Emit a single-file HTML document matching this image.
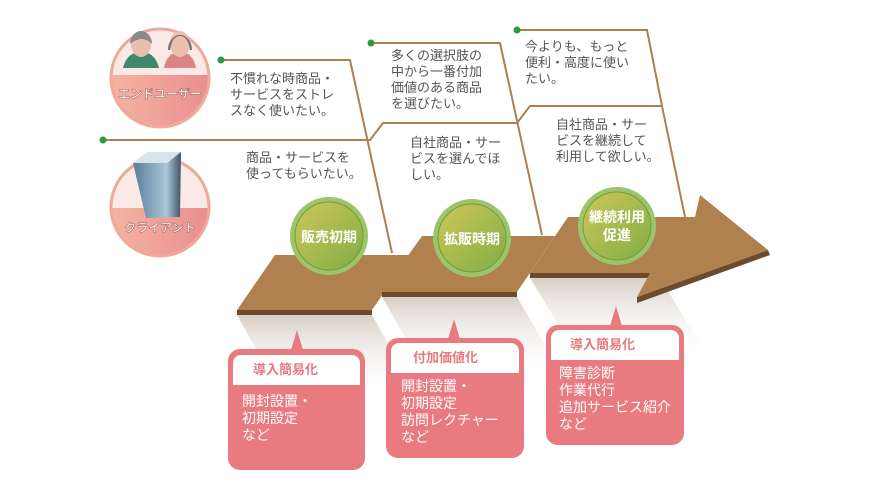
<!DOCTYPE html>
<html><head><meta charset="utf-8"><style>
body{margin:0;background:#fff;}
svg text{font-family:"Liberation Sans","Noto Sans CJK JP",sans-serif;}
</style></head><body>
<svg width="880" height="485" viewBox="0 0 880 485" xmlns="http://www.w3.org/2000/svg">
<defs>
<linearGradient id="pk" x1="0" x2="1"><stop offset="0" stop-color="#f3b4a0"/><stop offset="1" stop-color="#ea8f8f"/></linearGradient>
<linearGradient id="gr" x1="0" y1="0" x2="1" y2="1"><stop offset="0" stop-color="#cfc65a"/><stop offset="1" stop-color="#7fae45"/></linearGradient>
<linearGradient id="sh" x1="0" y1="0" x2="0" y2="1"><stop offset="0" stop-color="#d8cfc6"/><stop offset="1" stop-color="#fff" stop-opacity="0"/></linearGradient>
<linearGradient id="bd" x1="0" x2="1"><stop offset="0" stop-color="#5a7e9a"/><stop offset="0.7" stop-color="#a9c6d8"/><stop offset="1" stop-color="#3d5566"/></linearGradient>
<clipPath id="c1"><circle cx="160" cy="78" r="49"/></clipPath>
<clipPath id="c2"><circle cx="160" cy="207" r="49"/></clipPath>
</defs>
<polygon points="237,315 372,315 420,400 285,400" fill="url(#sh)"/>
<polygon points="382,297 517,297 565,380 430,380" fill="url(#sh)"/>
<polygon points="530,278 660,278 710,360 580,360" fill="url(#sh)"/>
<circle cx="160" cy="78" r="49" fill="url(#pk)"/>
<rect x="100" y="20" width="120" height="55" fill="#fbe9e6" clip-path="url(#c1)"/>
<circle cx="160" cy="78" r="49" fill="none" stroke="#f0a89a" stroke-width="3"/>
<path d="M123,68 q4,-16 18,-16 q14,0 18,16z" fill="#3f8a6e"/>
<ellipse cx="141" cy="44" rx="10" ry="13" fill="#eabfb0"/><path d="M130,44 a11,13 0 0 1 22,0 q-10,-10 -22,0z" fill="#8a8a8a"/>
<path d="M164,68 q3,-16 16,-16 q13,0 16,16z" fill="#d98585"/>
<ellipse cx="180" cy="44" rx="10" ry="13" fill="#eabfb0"/><path d="M168,50 a12,15 0 0 1 24,0 l-2,0 q-2,-14 -10,-14 q-8,0 -10,14z" fill="#6e6e6e"/>
<text x="160" y="98" font-size="12" font-weight="bold" fill="#fff" text-anchor="middle" stroke="#a66" stroke-width="0.6">エンドユーザー</text>
<circle cx="160" cy="207" r="49" fill="url(#pk)"/>
<rect x="100" y="150" width="120" height="58" fill="#fbe9e6" clip-path="url(#c2)"/>
<circle cx="160" cy="207" r="49" fill="none" stroke="#f0a89a" stroke-width="3"/>
<polygon points="133,163 148,152 181,152 180,217 146,218" fill="url(#bd)"/>
<polygon points="133,163 148,152 181,152 167,163" fill="#d8e4ec"/>
<text x="160" y="232" font-size="12" font-weight="bold" fill="#fff" text-anchor="middle" stroke="#a66" stroke-width="0.6">クライアント</text>
<g fill="none" stroke="#ad8050" stroke-width="2">
<polyline points="221,60 350,60 392,253"/>
<polyline points="103,140 370,140 383,123 517,123 530,106 662,106 685,217"/>
<polyline points="371,43 500,43 542,235"/>
<polyline points="517,30 647,30 662,106"/>
</g>
<g fill="#2e9a3a"><circle cx="221" cy="60" r="3.5"/><circle cx="103" cy="140" r="3.5"/><circle cx="371" cy="43" r="3.5"/><circle cx="517" cy="30" r="3.5"/></g>
<g font-size="13" fill="#555">
<text x="230" y="83">不慣れな時商品・</text><text x="230" y="99">サービスをストレ</text><text x="230" y="115">スなく使いたい。</text>
<text x="246" y="162">商品・サービスを</text><text x="246" y="178">使ってもらいたい。</text>
<text x="391" y="60">多くの選択肢の</text><text x="391" y="76">中から一番付加</text><text x="391" y="92">価値のある商品</text><text x="391" y="108">を選びたい。</text>
<text x="410" y="147">自社商品・サー</text><text x="410" y="163">ビスを選んでほ</text><text x="410" y="179">しい。</text>
<text x="525" y="51">今よりも、もっと</text><text x="525" y="67">便利・高度に使い</text><text x="525" y="83">たい。</text>
<text x="556" y="129">自社商品・サー</text><text x="556" y="145">ビスを継続して</text><text x="556" y="161">利用して欲しい。</text>
</g>
<polygon points="237,310 372,310 372,315 237,315" fill="#6b4b2c"/>
<polygon points="237,310 275,255 410,255 372,310" fill="#b0814f"/>
<polygon points="382,292 517,292 517,297 382,297" fill="#6b4b2c"/>
<polygon points="382,292 422,236 555,236 517,292" fill="#b0814f"/>
<polygon points="530,273 650,273 650,278 530,278" fill="#6b4b2c"/>
<polygon points="637,297 768,250 770,255 637,303" fill="#6b4b2c"/>
<polygon points="530,273 568,217 695,217 700,195 768,250 637,297 650,273" fill="#b0814f"/>
<g>
<circle cx="329" cy="236" r="39" fill="#9cc46a"/><circle cx="329" cy="236" r="34" fill="url(#gr)" stroke="#6f9a3e" stroke-width="1"/>
<text x="329" y="242" font-size="14" font-weight="bold" fill="#fff" text-anchor="middle">販売初期</text>
<circle cx="472" cy="238" r="39" fill="#9cc46a"/><circle cx="472" cy="238" r="34" fill="url(#gr)" stroke="#6f9a3e" stroke-width="1"/>
<text x="472" y="244" font-size="14" font-weight="bold" fill="#fff" text-anchor="middle">拡販時期</text>
<circle cx="617" cy="226" r="39" fill="#9cc46a"/><circle cx="617" cy="226" r="34" fill="url(#gr)" stroke="#6f9a3e" stroke-width="1"/>
<text x="617" y="222" font-size="14" font-weight="bold" fill="#fff" text-anchor="middle">継続利用</text>
<text x="617" y="240" font-size="14" font-weight="bold" fill="#fff" text-anchor="middle">促進</text>
</g>
<g fill="#e97a80">
<polygon points="291,350 297,330 303,350"/>
<rect x="228" y="349" width="137" height="121" rx="12"/>
<polygon points="448,339 454,319 460,339"/>
<rect x="386" y="338" width="138" height="120" rx="12"/>
<polygon points="610,326 616,306 622,326"/>
<rect x="546" y="325" width="138" height="120" rx="12"/>
</g>
<g fill="#fff">
<rect x="233" y="355" width="127" height="30" rx="8"/><rect x="233" y="370" width="127" height="15"/>
<rect x="391" y="343" width="128" height="30" rx="8"/><rect x="391" y="358" width="128" height="15"/>
<rect x="551" y="330" width="128" height="30" rx="8"/><rect x="551" y="345" width="128" height="15"/>
</g>
<g font-size="13" font-weight="bold" fill="#e57a7e">
<text x="253" y="374">導入簡易化</text><text x="413" y="362">付加価値化</text><text x="570" y="349">導入簡易化</text>
</g>
<g font-size="14" fill="#fff">
<text x="242" y="406">開封設置・</text><text x="242" y="423">初期設定</text><text x="242" y="440">など</text>
<text x="401" y="391">開封設置・</text><text x="401" y="408">初期設定</text><text x="401" y="425">訪問レクチャー</text><text x="401" y="442">など</text>
<text x="559" y="378">障害診断</text><text x="559" y="395">作業代行</text><text x="559" y="412">追加サービス紹介</text><text x="559" y="429">など</text>
</g>
</svg>
</body></html>
